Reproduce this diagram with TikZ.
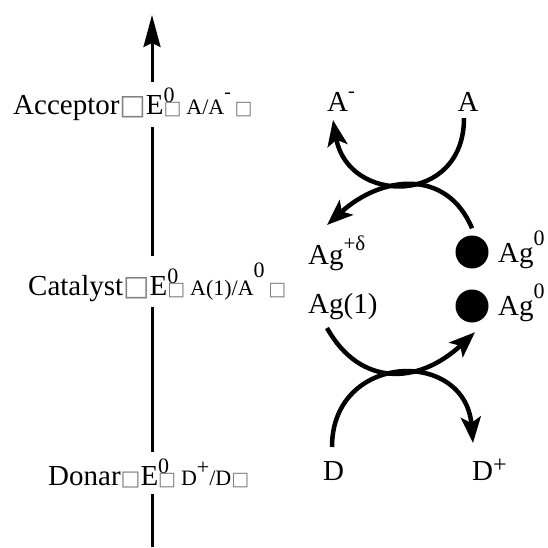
\documentclass[tikz,border=0pt]{standalone}
\usepackage{fontspec}
\setmainfont{Liberation Serif}
\newfontfamily\sqfont{DejaVu Sans}
\usetikzlibrary{arrows.meta}

\newcommand\bigtxt{\fontsize{29}{34}\selectfont}
\newcommand\smalltxt{\fontsize{22}{26}\selectfont}
\newcommand\gsq[1]{{\fontsize{#1}{#1}\selectfont\sqfont\textcolor{gray}{□}}}
\newcommand\pow[3][22]{\raisebox{#2}{\fontsize{#1}{#1}\selectfont #3}}
\newcommand\Ezero{E\makebox[0pt][l]{\pow{12pt}{0}}\gsq{19}}

\begin{document}
\begin{tikzpicture}[x=1pt, y=1pt,
    label/.style={anchor=base west, inner sep=0pt, font=\bigtxt},
    level/.style={anchor=base west, fill=white, inner xsep=0pt, inner ysep=6pt, font=\bigtxt},
    ball/.style={circle, fill=black, minimum size=33pt, inner sep=0pt},
    redox/.style={line width=4.5pt, -{Stealth[length=26pt, width=20pt, inset=6pt]}}]
  \useasboundingbox (0,0) rectangle (548,547);

  % energy axis
  \coordinate (axbot) at (152,0);
  \coordinate (axtop) at (152,532);
  \draw[line width=3pt, -{Stealth[length=32pt, width=17pt, inset=4pt]}] (axbot) -- (axtop);

  % levels on the axis
  \node[level] (acceptor) at (13,432) {Acceptor\gsq{28}\Ezero\,{\smalltxt A/A\pow[20]{16pt}{-}\,\gsq{19}}};
  \node[level] (catalyst) at (28,252) {Catalyst\gsq{28}\Ezero\,{\smalltxt A(1)/A\pow{18pt}{0}\,\gsq{19}}};
  \node[level] (donar) at (48,62) {Donar\gsq{21}\Ezero\,{\smalltxt D\pow{11pt}{+}/D\gsq{19}}};

  % species
  \node[label] (aminus) at (327,435) {A\pow[20]{14pt}{-}};
  \node[label, anchor=base] (a) at (468,435) {A};
  \node[label] (agdelta) at (308,283) {Ag\pow[21]{14pt}{+δ}};
  \node[ball] (ball1) at (472,295) {};
  \node[label] (agzero1) at (498,285) {Ag\pow{17pt}{0}};
  \node[label] (agone) at (308,234) {Ag(1)};
  \node[ball] (ball2) at (472,241) {};
  \node[label] (agzero2) at (498,232) {Ag\pow{17pt}{0}};
  \node[label] (d) at (323,67) {D};
  \node[label] (dplus) at (472,67) {D\pow[24]{8pt}{+}};

  % electron transfer
  \draw[redox] ([shift={(-4,-6)}]a.south) .. controls +(0,-88) and +(15,-85) .. ([shift={(6,-8)}]aminus.base west);
  \draw[redox] ([yshift=7pt]ball1.north) .. controls +(-25,60) and +(55,50) .. ([shift={(19,39)}]agdelta.base west);
  \draw[redox] ([shift={(19,-15)}]agone.base west) .. controls +(33,-59) and +(-57,-53) .. ([shift={(3,-9.5)}]ball2.south);
  \draw[redox] ([shift={(9,33)}]d.base west) .. controls +(0,95) and +(-8,95) .. ([shift={(1,37)}]dplus.base west);
\end{tikzpicture}
\end{document}
